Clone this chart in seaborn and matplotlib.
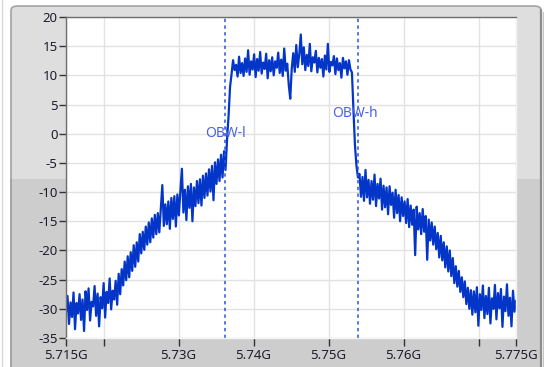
import matplotlib
matplotlib.use('Agg')
import matplotlib.pyplot as plt
from matplotlib.patches import FancyBboxPatch, Rectangle
from matplotlib.lines import Line2D
import numpy as np
import seaborn as sns

sns.set_style('white')
plt.rcParams['font.family'] = ['Noto Sans', 'DejaVu Sans']
plt.rcParams['axes.unicode_minus'] = False

## spectrum trace (dB) left to right
lower_skirt = [-30.5, -27.8, -32.6, -28.9, -31.4, -27.2, -33.5, -29.0, -30.8, -27.5,
               -31.9, -28.4, -33.8, -27.0, -30.2, -26.5, -32.0, -28.8, -29.6, -26.1,
               -31.2, -27.4, -33.0, -28.0, -29.9, -25.6, -31.5, -27.1, -29.0, -24.8,
               -30.1, -26.9, -28.4, -25.2, -29.3]
rising_edge = [-24.0, -27.5, -23.2, -26.0, -21.9, -25.1, -21.0, -24.6, -20.3, -23.5,
               -19.1, -22.8, -18.6, -21.9, -17.2, -20.5, -16.8, -19.9, -15.9, -19.0,
               -15.2, -18.6, -14.5, -17.8, -13.9, -17.2, -13.6, -16.9, -12.8, -8.8,
               -15.8, -12.1, -15.5, -11.6, -16.3, -11.0, -14.6, -10.7, -15.9, -10.4,
               -14.0, -9.8, -6.0, -13.5, -9.6, -14.8, -9.0, -12.7, -8.6, -15.0,
               -9.2, -12.4, -8.1, -11.9, -7.8, -12.3, -7.2, -11.0, -6.8, -10.6,
               -6.1, -9.9, -5.5, -11.4, -4.9, -8.6, -4.4, -8.1, -3.6, -7.5,
               -3.0, -6.2, -1.0, 3.0, 8.0]
in_band = [10.2, 12.6, 10.9, 11.8, 9.8, 13.2, 10.4, 12.1, 9.9, 12.9,
           10.6, 14.3, 10.1, 12.4, 11.0, 13.6, 9.7, 12.8, 10.8, 14.0,
           10.3, 12.2, 11.1, 13.7, 9.5, 12.6, 10.7, 13.1, 10.0, 12.4,
           11.3, 13.9, 10.4, 12.7, 9.9, 14.6, 10.8, 12.0, 8.4, 6.0,
           11.2, 13.8, 10.6, 15.2, 11.4, 13.6, 17.0, 11.9, 14.8, 10.9,
           13.5, 11.6, 15.4, 10.7, 13.1, 12.2, 14.2, 10.5, 13.0, 11.3,
           12.8, 9.8, 13.4, 11.0, 15.4, 10.6, 12.3, 11.7, 13.3, 10.2,
           12.9, 10.9, 12.1, 9.6, 13.0, 11.2, 12.4, 10.1, 12.6, 11.0]
falling_edge = [10.5, 4.0, -2.0, -5.5, -7.5,
                -6.9, -10.8, -7.4, -11.5, -6.2, -10.9, -7.9, -12.0, -8.1, -11.3,
                -7.0, -12.4, -8.6, -11.1, -7.7, -13.0, -8.9, -12.6, -9.2, -13.8,
                -9.0, -12.2, -10.1, -14.4, -9.6, -13.6, -10.5, -15.0, -10.9, -14.1,
                -11.6, -15.3, -11.2, -16.0, -12.3, -15.6, -13.0, -20.8, -12.5, -16.4,
                -13.6, -17.2, -12.9, -16.8, -14.1, -21.6, -14.7, -18.3, -15.2, -19.0,
                -15.9, -19.8, -17.0, -21.2, -17.5, -21.7, -18.6, -22.9, -19.3, -23.6,
                -20.0, -24.4, -21.3, -25.6, -22.7, -26.2, -23.5, -27.1, -24.6, -28.0,
                -25.3, -29.2, -26.4, -30.0, -26.8, -31.0]
upper_skirt = [-27.0, -30.6, -26.3, -32.9, -27.5, -30.2, -26.0, -31.6, -27.8, -30.9,
               -26.4, -32.5, -28.2, -30.0, -25.9, -31.8, -27.3, -29.9, -26.6, -33.1,
               -27.9, -30.4, -25.8, -31.2, -28.1, -33.0, -26.9, -30.5, -28.6]

level = lower_skirt + rising_edge + in_band + falling_edge + upper_skirt
f_start, f_stop = 5.715e9, 5.775e9
freq = np.linspace(f_start, f_stop, len(level))

obw_lo, obw_hi = 5.7362e9, 5.7539e9

xticks = [5.715e9, 5.72e9, 5.73e9, 5.74e9, 5.75e9, 5.76e9, 5.77e9, 5.775e9]
xlabels = ['5.715G', '', '5.73G', '5.74G', '5.75G', '5.76G', '', '5.775G']
yticks = list(range(-35, 21, 5))

W, H = 544, 367
fig = plt.figure(figsize=(W / 100, H / 100), dpi=100)
fig.patch.set_facecolor('white')

def fx(px):
    return px / W

def fy(py):
    return 1 - py / H

# panel frame
fig.add_artist(Line2D([fx(1.5), fx(1.5)], [0, 1], color='#d8d8d8', lw=1, zorder=-5))
frame = FancyBboxPatch((fx(11), fy(372)), fx(530), (372 - 6) / H,
                       boxstyle='round,pad=0,rounding_size=0.012',
                       transform=fig.transFigure, facecolor='#dedede',
                       edgecolor='#a3a3a3', lw=1.2, zorder=-5)
fig.add_artist(frame)
fig.add_artist(Rectangle((fx(12), 0), fx(528), fy(179), transform=fig.transFigure,
                         facecolor='#cdcdcd', edgecolor='none', zorder=-4))
fig.add_artist(Line2D([fx(11), fx(11)], [0, fy(179)], color='#a3a3a3', lw=1.2, zorder=-3))
fig.add_artist(Line2D([fx(541), fx(541)], [0, fy(10)], color='#8c8c8c', lw=1.6, zorder=-3))
fig.add_artist(Line2D([fx(543), fx(543)], [0, fy(12)], color='#c4c4c4', lw=1, zorder=-3))

ax = fig.add_axes([fx(66), fy(338), fx(516 - 66), (338 - 17) / H])
ax.set_zorder(5)
ax.set_facecolor('white')

sns.lineplot(x=freq, y=level, ax=ax, color='#0336c8', linewidth=1.6)

for f in (obw_lo, obw_hi):
    ax.axvline(f, color='#2a55e0', lw=1.1, ls=(0, (2.2, 2.2)))
ax.text(obw_lo, 0, 'OBW-l', color='#4a63e0', fontsize=10, ha='center', va='center')
ax.text(obw_hi - 0.35e6, 3.5, 'OBW-h', color='#4a63e0', fontsize=10,
        ha='center', va='center')

ax.set_xlim(f_start, f_stop)
ax.set_ylim(-35, 20)
ax.set_xticks(xticks)
ax.set_xticklabels(xlabels)
ax.set_yticks(yticks)
ax.set_yticklabels([str(v) for v in yticks])
ax.grid(True, color='#e2e2e2', lw=1)
ax.set_axisbelow(True)
ax.tick_params(axis='both', direction='out', length=5, width=1, color='#333333',
               labelsize=9.5, labelcolor='#1e1e2a', pad=1)
ax.tick_params(axis='x', length=6, pad=2)
ax.tick_params(left=True, bottom=True)
for side in ('left', 'top'):
    ax.spines[side].set_color('#6e6e6e')
    ax.spines[side].set_linewidth(1)
for side in ('right', 'bottom'):
    ax.spines[side].set_color('#f4f4f4')
    ax.spines[side].set_linewidth(1)
ax.set_xlabel('')
ax.set_ylabel('')

fig.savefig('out.png', dpi=100)
